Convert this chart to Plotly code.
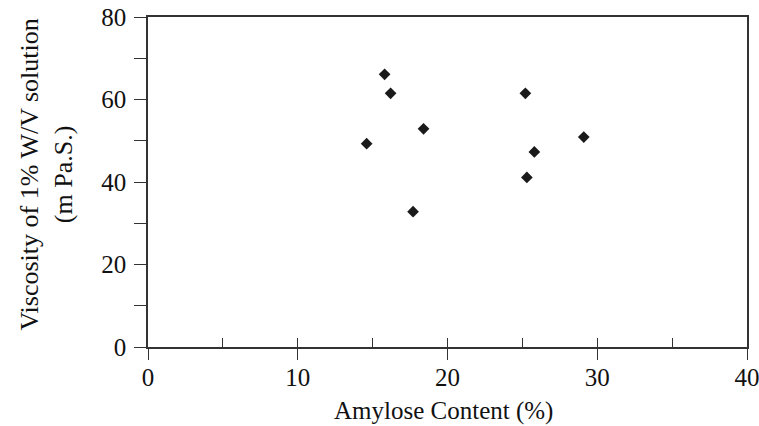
import plotly.graph_objects as go

amylose = [14.6, 15.8, 16.2, 17.7, 18.4, 25.2, 25.3, 25.8, 29.1]
viscosity = [49.3, 66.1, 61.5, 32.8, 52.9, 61.5, 41.1, 47.3, 50.9]

x_title = "Amylose Content (%)"
y_title = "Viscosity of 1% W/V solution<br>(m Pa.S.)"

ff = "Liberation Serif, Times New Roman, serif"
font = dict(family=ff, size=24, color="#111")
axcol = "#333"

fig = go.Figure()
fig.add_trace(go.Scatter(
    x=amylose, y=viscosity, mode="markers",
    marker=dict(symbol="diamond", size=9, color="#1a1a1a"),
    showlegend=False,
))
# invisible trace for overlay x-axis (inside minor ticks)
fig.add_trace(go.Scatter(x=[0, 40], y=[0, 0], xaxis="x2", mode="markers",
                         marker=dict(opacity=0), showlegend=False, hoverinfo="skip"))

fig.update_layout(
    width=759, height=426,
    margin=dict(l=148, r=12, t=17, b=79),
    paper_bgcolor="white", plot_bgcolor="white",
    font=font,
    xaxis=dict(
        range=[0, 40], tickvals=[0, 10, 20, 30, 40], ticks="outside", ticklen=11,
        tickwidth=1.3, tickcolor=axcol, showline=True, linecolor=axcol, linewidth=1.5,
        mirror=True, showgrid=False, zeroline=False, automargin=False,
        tickfont=dict(size=25), ticklabelstandoff=-4, ticklabeloverflow="allow",
    ),
    xaxis2=dict(
        range=[0, 40], overlaying="x", side="bottom", anchor="y",
        tickvals=[0, 5, 10, 15, 20, 25, 30, 35, 40], ticks="inside", ticklen=9,
        tickwidth=1.3, tickcolor=axcol, showticklabels=False, showgrid=False,
        zeroline=False, showline=False, automargin=False,
    ),
    yaxis=dict(
        range=[0, 80], tickvals=[0, 10, 20, 30, 40, 50, 60, 70, 80],
        ticktext=["0", "", "20", "", "40", "", "60", "", "80"],
        ticks="outside", ticklen=12, tickwidth=1.3, tickcolor=axcol,
        showline=True, linecolor=axcol, linewidth=1.5, mirror=True,
        showgrid=False, zeroline=False, automargin=False,
        tickfont=dict(size=25), ticklabelstandoff=3, ticklabeloverflow="allow",
    ),
    annotations=[
        dict(text=x_title, xref="paper", yref="paper", x=0.494, y=-0.194,
             xanchor="center", yanchor="middle", showarrow=False,
             font=dict(family=ff, size=25, color="#111")),
        dict(text=y_title, xref="paper", yref="paper", x=-0.1694, y=0.521,
             xanchor="center", yanchor="middle", showarrow=False, textangle=-90,
             align="center", font=dict(family=ff, size=26, color="#111")),
    ],
)

fig.write_html("out.html", config={"displayModeBar": False},
               post_script="document.body.style.margin='0';")
